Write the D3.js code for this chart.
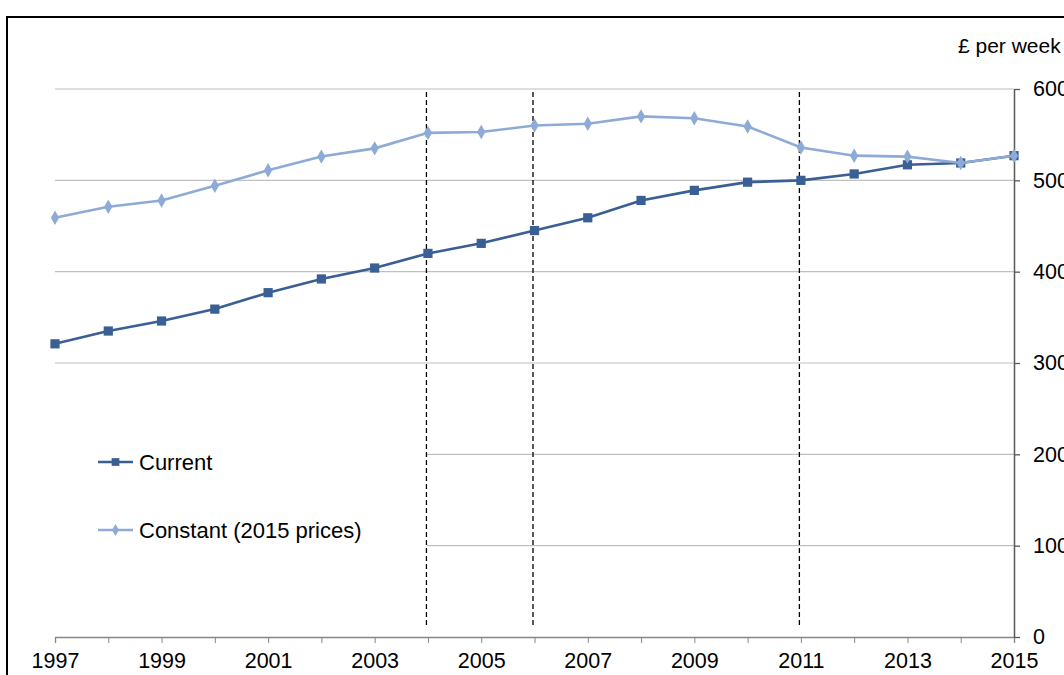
<!DOCTYPE html>
<html>
<head>
<meta charset="utf-8">
<script src="https://cdn.jsdelivr.net/npm/d3@7"></script>
<style>
  body { margin: 0; background: #fff; }
  svg { display: block; font-family: "Liberation Sans", Arial, sans-serif; }
</style>
</head>
<body>
<script>
const years = ["1997", "1998", "1999", "2000", "2001", "2002", "2003", "2004", "2005", "2006",
  "2007", "2008", "2009", "2010", "2011", "2012", "2013", "2014", "2015"];
const current = [321, 335, 346, 359, 377, 392, 404, 420, 431, 445, 459, 478, 489, 498, 500, 507, 517, 519, 527];
const constant = [459, 471, 478, 494, 511, 526, 535, 552, 553, 560, 562, 570, 568, 559, 536, 527, 526, 519, 527];
const breakYears = ["2004", "2006", "2011"];
const yTicks = [0, 100, 200, 300, 400, 500, 600];
const xLabels = years.filter((d, i) => i % 2 === 0);

const width = 1064;
const height = 675;
const margin = { top: 89, right: 50, bottom: 38, left: 55 };
const fontSize = 21.5;

const svg = d3.select("body").append("svg")
  .attr("width", width)
  .attr("height", height);

// outer chart frame (runs off the right / bottom edge)
svg.append("rect")
  .attr("x", 7).attr("y", 17)
  .attr("width", 1100).attr("height", 700)
  .attr("fill", "#fff")
  .attr("stroke", "#000")
  .attr("stroke-width", 2);

const x = d3.scalePoint().domain(years).range([margin.left, width - margin.right]);
const y = d3.scaleLinear().domain([0, 600]).range([height - margin.bottom, margin.top]);

// gridlines
svg.append("g")
  .selectAll("line")
  .data(yTicks.filter((d) => d > 0))
  .enter()
  .append("line")
  .attr("x1", x.range()[0])
  .attr("x2", x.range()[1])
  .attr("y1", (d) => y(d))
  .attr("y2", (d) => y(d))
  .attr("stroke", "#c0c0c0")
  .attr("stroke-width", 1.2);

// legend box hides the grid on the lower left
svg.append("rect")
  .attr("x", 30).attr("y", 392)
  .attr("width", x("2004") - 31).attr("height", 210)
  .attr("fill", "#fff");

// x axis
const xAxis = svg.append("g")
  .attr("transform", `translate(0,${y(0)})`)
  .call(d3.axisBottom(x).tickSize(6).tickPadding(10)
    .tickFormat((d) => (xLabels.includes(d) ? d : "")));
xAxis.select(".domain").attr("stroke", "#868686").attr("stroke-width", 1.3);
xAxis.selectAll(".tick line").attr("stroke", "#868686");
xAxis.selectAll("text").attr("font-size", fontSize).attr("fill", "#000")
  .attr("font-family", "Liberation Sans, Arial, sans-serif");

// y axis on the right (labels run off the edge, as in the source)
const yAxis = svg.append("g")
  .attr("transform", `translate(${x.range()[1]},0)`)
  .call(d3.axisRight(y).tickValues(yTicks).tickSize(6).tickPadding(13).tickSizeOuter(0));
yAxis.select(".domain").attr("stroke", "#595959").attr("stroke-width", 1.5);
yAxis.selectAll(".tick line").attr("stroke", "#595959").attr("stroke-width", 1.3);
yAxis.selectAll("text").attr("font-size", fontSize).attr("fill", "#000")
  .attr("font-family", "Liberation Sans, Arial, sans-serif");

svg.append("text")
  .attr("x", 958).attr("y", 53)
  .attr("font-size", 21)
  .text("£ per week");

// series break markers
svg.append("g")
  .selectAll("line")
  .data(breakYears)
  .enter()
  .append("line")
  .attr("x1", (d) => x(d) - 1.5)
  .attr("x2", (d) => x(d) - 1.5)
  .attr("y1", 92)
  .attr("y2", 628)
  .attr("stroke", "#000")
  .attr("stroke-width", 1.3)
  .attr("stroke-dasharray", "5,3");

const series = [
  { name: "Current", values: current, color: "#3a5f94", shape: d3.symbolSquare, size: 85, legendY: 462 },
  { name: "Constant (2015 prices)", values: constant, color: "#8eaad6", shape: d3.symbolDiamond, size: 60, legendY: 530 }
];

const line = d3.line()
  .x((d, i) => x(years[i]))
  .y((d) => y(d));

// constant is drawn last, so it sits on top where the two meet
series.forEach((s) => {
  svg.append("path")
    .datum(s.values)
    .attr("fill", "none")
    .attr("stroke", s.color)
    .attr("stroke-width", 2.6)
    .attr("d", line);

  svg.append("g")
    .selectAll("path")
    .data(s.values)
    .enter()
    .append("path")
    .attr("transform", (d, i) => `translate(${x(years[i])},${y(d)})`)
    .attr("d", d3.symbol().type(s.shape).size(s.size))
    .attr("fill", s.color);
});

// legend
series.forEach((s) => {
  const g = svg.append("g").attr("transform", `translate(98,${s.legendY})`);
  g.append("line")
    .attr("x1", 0).attr("x2", 35)
    .attr("stroke", s.color)
    .attr("stroke-width", 2.6);
  g.append("path")
    .attr("transform", "translate(17.5,0)")
    .attr("d", d3.symbol().type(s.shape).size(s.size * 0.7))
    .attr("fill", s.color);
  g.append("text")
    .attr("x", 41).attr("y", 8)
    .attr("font-size", 22)
    .text(s.name);
});
</script>
</body>
</html>
